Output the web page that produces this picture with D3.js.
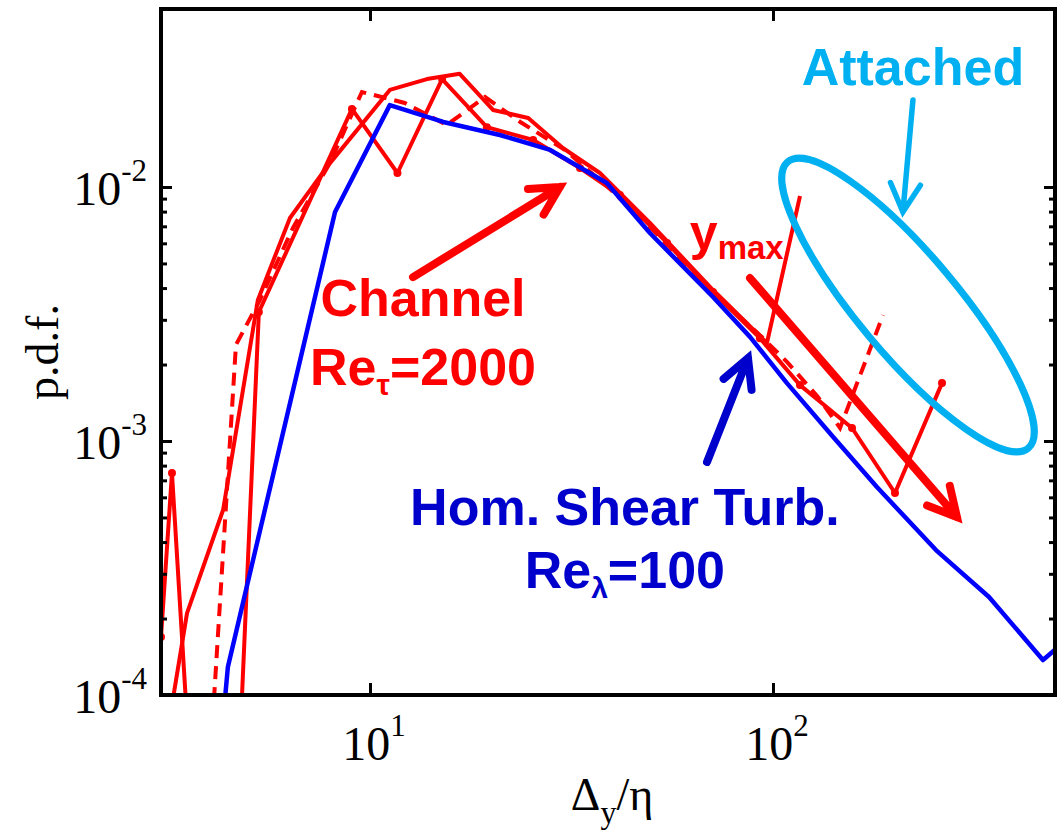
<!DOCTYPE html>
<html>
<head>
<meta charset="utf-8">
<script src="https://cdn.jsdelivr.net/npm/d3@7"></script>
<style>
  body { margin: 0; background: #fff; }
  svg { display: block; }
</style>
</head>
<body>
<svg id="chart" width="1060" height="832"></svg>
<script>
// Homogeneous shear turbulence, Re_lambda = 100
const hstX = [4.35, 4.44, 8.19, 11.2, 15.2, 21.0, 28.0, 38.7, 49.5, 71.0, 87.7, 108.3, 140.9, 181.1, 253.8, 343.6, 467.7, 506.6];
const hstY = [9.0e-5, 1.29e-4, 7.97e-3, 0.0210, 0.01803, 0.01602, 0.01399, 0.01037, 6.59e-3, 3.69e-3, 2.57e-3, 1.69e-3, 1.04e-3, 6.59e-4, 3.72e-4, 2.43e-4, 1.373e-4, 1.53e-4];

// Channel, Re_tau = 2000 : three wall-distance bands
const chAX = [3.226, 3.516, 4.32, 5.27, 6.33, 7.82, 11.2, 13.85, 16.7, 20.2, 24.7, 30.1, 37.2, 49.5, 71.0, 96.6, 116.7];
const chAY = [9.14e-5, 2.10e-4, 5.35e-4, 3.59e-3, 7.55e-3, 0.0120, 0.0241, 0.0266, 0.0279, 0.0201, 0.0187, 0.01424, 0.01135, 7.22e-3, 3.93e-3, 2.43e-3, 9.22e-3];

const chBX = [4.10, 4.65, 5.33, 6.44, 7.95, 9.55, 12.2, 15.5, 19.3, 23.6, 30.5, 39.4, 52.4, 71.0, 92.8, 108.3, 129.3, 146.7, 187.5];
const chBY = [9.55e-5, 2.39e-3, 3.59e-3, 6.90e-3, 0.01243, 0.02366, 0.02142, 0.01754, 0.0226, 0.01803, 0.01399, 0.00982, 6.36e-3, 3.83e-3, 2.61e-3, 2.05e-3, 1.49e-3, 1.125e-3, 3.13e-3];

const chCX = [3.03, 3.226, 3.516, 4.32, 5.3, 9.02, 11.7, 15.1, 19.5, 25.4, 33.2, 41.7, 54.6, 71.0, 92.8, 116.7, 157.1, 200.8, 262.7];
const chCY = [1.69e-4, 7.48e-4, 7.97e-5, 2.0e-6, 3.22e-3, 0.0203, 0.01135, 0.0266, 0.0172, 0.01531, 0.01188, 9.30e-3, 6.02e-3, 3.86e-3, 2.54e-3, 1.66e-3, 1.125e-3, 6.24e-4, 1.69e-3];

// axis ticks
const xTicks = [10, 100];
const xTickExp = ["1", "2"];
const yTicks = [1e-4, 1e-3, 1e-2];
const yTickExp = ["-4", "-3", "-2"];

// annotation anchors (data coordinates)
const channelArrow = [[12.79, 4.42e-3], [29.6, 1.0e-2]];
const ymaxArrow = [[87.7, 4.38e-3], [286.1, 5.02e-4]];
const hstArrow = [[68.6, 8.27e-4], [86.7, 2.12e-3]];
const attachedArrow = [[222.5, 0.0220], [210.1, 7.97e-3]];
const attachedCenter = [216.3, 3.43e-3];

const W = 1060, H = 832;
const plot = { left: 161, right: 1055, top: 9, bottom: 695 };

const RED = "#ff0000", BLUE = "#0000ff", NAVY = "#0000cc", CYAN = "#00b0f0";
const SERIF = "'Liberation Serif', 'Times New Roman', serif";
const SANS = "'Liberation Sans', Arial, Helvetica, sans-serif";

const x = d3.scaleLog().domain([3.03, 501]).range([plot.left, plot.right]);
const y = d3.scaleLog().domain([1e-4, 0.0502]).range([plot.bottom, plot.top]);

const svg = d3.select("#chart");
svg.append("rect").attr("width", W).attr("height", H).attr("fill", "#fff");

svg.append("defs").append("clipPath").attr("id", "plotClip")
  .append("rect")
  .attr("x", plot.left).attr("y", plot.top)
  .attr("width", plot.right - plot.left).attr("height", plot.bottom - plot.top);

const line = d3.line().x(d => x(d[0])).y(d => y(d[1]));
const curves = svg.append("g").attr("clip-path", "url(#plotClip)");

// channel curves
curves.append("path").datum(d3.zip(chBX, chBY))
  .attr("d", line).attr("fill", "none").attr("stroke", RED)
  .attr("stroke-width", 4).attr("stroke-dasharray", "13,8");
curves.append("path").datum(d3.zip(chAX, chAY))
  .attr("d", line).attr("fill", "none").attr("stroke", RED)
  .attr("stroke-width", 4).attr("stroke-linejoin", "round");
curves.append("path").datum(d3.zip(chCX, chCY))
  .attr("d", line).attr("fill", "none").attr("stroke", RED)
  .attr("stroke-width", 4).attr("stroke-linejoin", "round");
curves.selectAll("circle.mk").data(d3.zip(chCX, chCY))
  .join("circle").attr("class", "mk")
  .attr("cx", d => x(d[0])).attr("cy", d => y(d[1]))
  .attr("r", 4).attr("fill", RED);

// shear turbulence curve
curves.append("path").datum(d3.zip(hstX, hstY))
  .attr("d", line).attr("fill", "none").attr("stroke", BLUE)
  .attr("stroke-width", 4.5).attr("stroke-linejoin", "round");

// axes: ticks point inward on all four sides
const yMinor = y.ticks().filter(v => v < 0.0101 && !yTicks.some(t => Math.abs(t - v) / t < 1e-6));

function styleAxis(g) {
  g.select(".domain").remove();
  g.selectAll(".tick line").attr("stroke", "#000").attr("stroke-width", 3);
  g.selectAll(".tick text").remove();
}
svg.append("g").attr("transform", `translate(0,${plot.bottom})`)
  .call(d3.axisBottom(x).tickValues(xTicks).tickSize(-12).tickFormat("")).call(styleAxis);
svg.append("g").attr("transform", `translate(0,${plot.top})`)
  .call(d3.axisTop(x).tickValues(xTicks).tickSize(-12).tickFormat("")).call(styleAxis);
svg.append("g").attr("transform", `translate(${plot.left},0)`)
  .call(d3.axisLeft(y).tickValues(yTicks).tickSize(-11).tickFormat("")).call(styleAxis);
svg.append("g").attr("transform", `translate(${plot.left},0)`)
  .call(d3.axisLeft(y).tickValues(yMinor).tickSize(-6).tickFormat("")).call(styleAxis);
svg.append("g").attr("transform", `translate(${plot.right},0)`)
  .call(d3.axisRight(y).tickValues(yTicks).tickSize(-11).tickFormat("")).call(styleAxis);
svg.append("g").attr("transform", `translate(${plot.right},0)`)
  .call(d3.axisRight(y).tickValues(yMinor).tickSize(-6).tickFormat("")).call(styleAxis);

svg.append("rect")
  .attr("x", plot.left).attr("y", plot.top)
  .attr("width", plot.right - plot.left).attr("height", plot.bottom - plot.top)
  .attr("fill", "none").attr("stroke", "#000").attr("stroke-width", 4);

// tick labels with superscript exponents
yTicks.forEach((v, i) => {
  const t = svg.append("text")
    .attr("x", plot.left - 14).attr("y", y(v) + 18)
    .attr("text-anchor", "end")
    .attr("font-family", SERIF).attr("font-size", 48).attr("fill", "#000");
  t.append("tspan").text("10");
  t.append("tspan").attr("dy", -24).attr("font-size", 31).text(yTickExp[i]);
});
xTicks.forEach((v, i) => {
  const t = svg.append("text")
    .attr("x", x(v) + 4).attr("y", 760)
    .attr("text-anchor", "middle")
    .attr("font-family", SERIF).attr("font-size", 48).attr("fill", "#000");
  t.append("tspan").text("10");
  t.append("tspan").attr("dy", -24).attr("font-size", 31).text(xTickExp[i]);
});

// axis titles
const xt = svg.append("text")
  .attr("x", (plot.left + plot.right) / 2 + 4).attr("y", 810)
  .attr("text-anchor", "middle")
  .attr("font-family", SERIF).attr("font-size", 46).attr("fill", "#000");
xt.append("tspan").text("\u0394");
xt.append("tspan").attr("dy", 13).attr("font-size", 32).text("y");
xt.append("tspan").attr("dy", -13).text("/\u03b7");

svg.append("text")
  .attr("transform", `translate(58,${(plot.top + plot.bottom) / 2}) rotate(-90)`)
  .attr("text-anchor", "middle")
  .attr("font-family", SERIF).attr("font-size", 46).attr("fill", "#000")
  .text("p.d.f.");

// annotations
const notes = svg.append("g");

function arrow(pts, color, width) {
  const [x0, y0] = [x(pts[0][0]), y(pts[0][1])];
  const [x1, y1] = [x(pts[1][0]), y(pts[1][1])];
  const ang = Math.atan2(y0 - y1, x0 - x1);
  const len = 32, spread = 28 * Math.PI / 180;
  const a1 = [x1 + len * Math.cos(ang + spread), y1 + len * Math.sin(ang + spread)];
  const a2 = [x1 + len * Math.cos(ang - spread), y1 + len * Math.sin(ang - spread)];
  notes.append("path")
    .attr("d", `M${x0},${y0}L${x1},${y1}M${a1[0]},${a1[1]}L${x1},${y1}L${a2[0]},${a2[1]}`)
    .attr("fill", "none").attr("stroke", color).attr("stroke-width", width)
    .attr("stroke-linecap", "round").attr("stroke-linejoin", "miter");
}

arrow(channelArrow, RED, 8);
arrow(ymaxArrow, RED, 8);
arrow(hstArrow, NAVY, 8);
arrow(attachedArrow, CYAN, 5.5);

notes.append("ellipse")
  .attr("transform", `translate(${x(attachedCenter[0])},${y(attachedCenter[1])}) rotate(50)`)
  .attr("rx", 187).attr("ry", 50)
  .attr("fill", "none").attr("stroke", CYAN).attr("stroke-width", 7);

function label(xv, yv, color, parts) {
  const t = notes.append("text")
    .attr("x", x(xv)).attr("y", y(yv))
    .attr("text-anchor", "middle")
    .attr("font-family", SANS).attr("font-weight", "bold")
    .attr("font-size", 52).attr("fill", color);
  parts.forEach(p => {
    const s = t.append("tspan").text(p.text);
    if (p.dy) s.attr("dy", p.dy);
    if (p.size) s.attr("font-size", p.size);
  });
  return t;
}

label(222.5, 0.0252, CYAN, [{ text: "Attached" }]);
label(13.54, 3.10e-3, RED, [{ text: "Channel" }]);
label(13.54, 1.66e-3, RED, [{ text: "Re" }, { text: "\u03c4", dy: 10, size: 30 }, { text: "=2000", dy: -10 }]);
label(42.9, 4.67e-4, NAVY, [{ text: "Hom. Shear Turb." }]);
label(42.9, 2.64e-4, NAVY, [{ text: "Re" }, { text: "\u03bb", dy: 10, size: 30 }, { text: "=100", dy: -10 }]);

const ym = notes.append("text")
  .attr("x", x(62.2)).attr("y", y(5.65e-3))
  .attr("font-family", SANS).attr("font-weight", "bold")
  .attr("font-size", 50).attr("fill", RED);
ym.append("tspan").text("y");
ym.append("tspan").attr("dy", 9).attr("font-size", 33).text("max");
</script>
</body>
</html>
